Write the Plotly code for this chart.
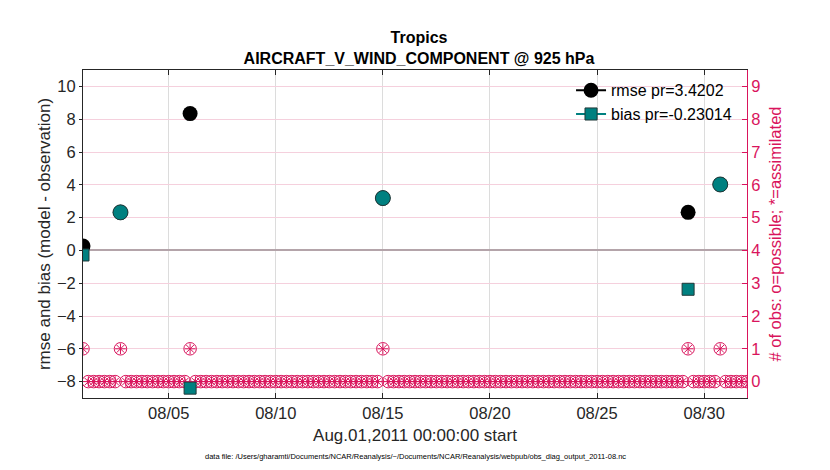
import plotly.graph_objects as go
import pandas as pd

# ---- data ----
bin_times = pd.date_range("2011-08-01 00:00", "2011-09-01 00:00", freq="6h")
obs_times = ["2011-08-01 00:00", "2011-08-02 18:00", "2011-08-06 00:00",
             "2011-08-15 00:00", "2011-08-29 06:00", "2011-08-30 18:00"]
rmse_vals = [0.27, 2.32, 8.34, 3.19, 2.32, 4.02]
bias_vals = [-0.28, 2.32, -8.40, 3.19, -2.37, 4.02]
obs_possible = [1, 1, 1, 1, 1, 1]
obs_assimilated = [1, 1, 1, 1, 1, 1]
xtick_vals = ["2011-08-05", "2011-08-10", "2011-08-15", "2011-08-20", "2011-08-25", "2011-08-30"]
xtick_text = ["08/05", "08/10", "08/15", "08/20", "08/25", "08/30"]

CRIMSON = "#d9145c"
TEAL = "#008080"
FONT = "Liberation Sans, Arial, Helvetica, sans-serif"

obs_idx = {pd.Timestamp(t): i for i, t in enumerate(obs_times)}
rmse_full, bias_full, poss_full, assim_full = [], [], [], []
for t in bin_times:
    if t in obs_idx:
        i = obs_idx[t]
        rmse_full.append(rmse_vals[i]); bias_full.append(bias_vals[i])
        poss_full.append(obs_possible[i]); assim_full.append(obs_assimilated[i])
    else:
        rmse_full.append(None); bias_full.append(None)
        poss_full.append(0); assim_full.append(0)

bias_symbols = ["circle" if (b is not None and b > 0) else "square" for b in bias_full]
bias_sizes = [15 if s == "circle" else 12 for s in bias_symbols]

fig = go.Figure()
fig.add_trace(go.Scatter(x=bin_times, y=poss_full, mode="markers", yaxis="y",
                         marker=dict(symbol="circle-open", size=12.5, color=CRIMSON, opacity=1,
                                     line=dict(width=1, color=CRIMSON)),
                         showlegend=False, hoverinfo="skip"))
fig.add_trace(go.Scatter(x=bin_times, y=assim_full, mode="markers", yaxis="y",
                         marker=dict(symbol="asterisk-open", size=9, color=CRIMSON, opacity=1,
                                     line=dict(width=1, color=CRIMSON)),
                         showlegend=False, hoverinfo="skip"))
fig.add_trace(go.Scatter(x=bin_times, y=rmse_full, mode="lines+markers", yaxis="y2",
                         name="rmse pr=3.4202",
                         line=dict(color="black", width=2),
                         marker=dict(symbol="circle", size=15, color="black", opacity=1)))
fig.add_trace(go.Scatter(x=bin_times, y=bias_full, mode="lines+markers", yaxis="y2",
                         name="bias pr=-0.23014",
                         line=dict(color=TEAL, width=2),
                         marker=dict(symbol=bias_symbols, size=bias_sizes, opacity=1,
                                     color=TEAL, line=dict(width=1, color="#203838"))))

fig.update_layout(
    width=822, height=462,
    margin=dict(l=75, r=83, t=62, b=72),
    paper_bgcolor="white", plot_bgcolor="white",
    font=dict(family=FONT, size=16, color="#262626"),
    title=dict(text="<b>Tropics</b><br><b>AIRCRAFT_V_WIND_COMPONENT @ 925 hPa</b>",
               x=0.5, xanchor="center", y=0.924, yanchor="top",
               font=dict(size=16, color="black")),
    xaxis=dict(range=["2011-08-01 00:00", "2011-09-01 00:00"],
               tickvals=xtick_vals, ticktext=xtick_text,
               showgrid=True, gridcolor="#dcdcdc", gridwidth=1,
               ticks="inside", ticklen=5, tickcolor="#262626",
               showline=True, linecolor="#262626", linewidth=1, mirror="ticks",
               zeroline=False, automargin=False,
               title=dict(text="Aug.01,2011 00:00:00 start", font=dict(size=17), standoff=8),
               tickfont=dict(size=16.5)),
    yaxis=dict(side="right", range=[-0.5, 9.5], tickvals=list(range(0, 10)),
               showgrid=True, gridcolor="#f5d0dd", gridwidth=1,
               zeroline=False, automargin=False,
               ticks="inside", ticklen=5, tickcolor=CRIMSON,
               showline=True, linecolor=CRIMSON, linewidth=1,
               tickfont=dict(size=16.5, color=CRIMSON),
               title=dict(text="# of obs: o=possible; *=assimilated",
                          font=dict(size=16.5, color=CRIMSON), standoff=9)),
    yaxis2=dict(side="left", overlaying="y", range=[-9, 11],
                tickvals=[-8, -6, -4, -2, 0, 2, 4, 6, 8, 10],
                showgrid=False, zeroline=True, zerolinecolor="#b4a4aa", zerolinewidth=1.5,
                ticks="outside", ticklen=3, tickcolor="#262626",
                showline=True, linecolor="#262626", linewidth=1, automargin=False,
                tickfont=dict(size=16.5),
                title=dict(text="rmse and bias (model - observation)", font=dict(size=17), standoff=1)),
    legend=dict(x=0.985, xanchor="right", y=0.99, yanchor="top",
                bgcolor="rgba(255,255,255,0)", borderwidth=0,
                font=dict(size=16, color="black"), itemwidth=30, tracegroupgap=0),
    annotations=[dict(text="data file: /Users/gharamti/Documents/NCAR/Reanalysis/~/Documents/NCAR/Reanalysis/webpub/obs_diag_output_2011-08.nc",
                      xref="paper", yref="paper", x=0.5, y=-0.16, xanchor="center", yanchor="top",
                      showarrow=False, font=dict(size=7.5, color="black"))],
)

fig.write_html("out.html")
